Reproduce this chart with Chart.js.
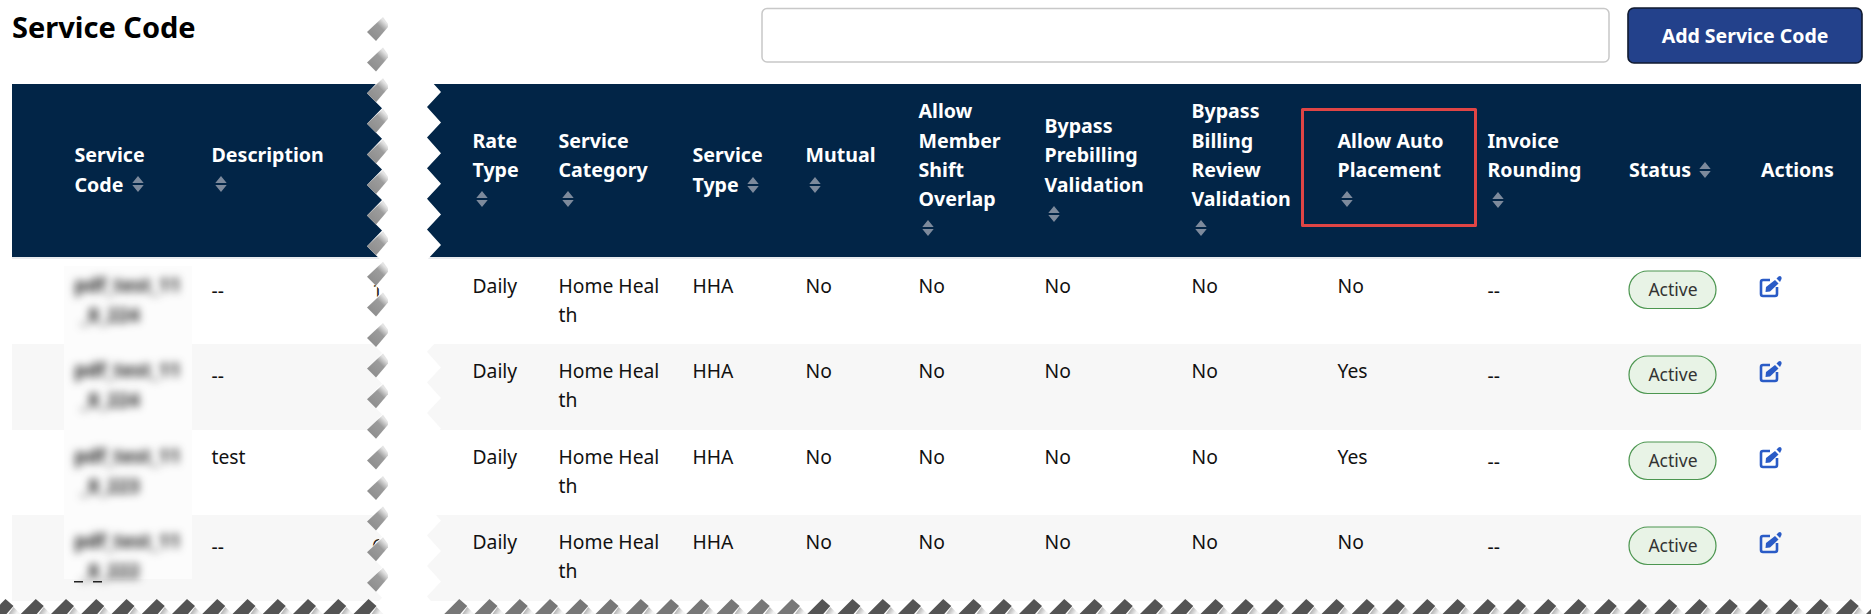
<!DOCTYPE html>
<html>
<head>
<meta charset="utf-8">
<title>Service Code</title>
<script src="https://cdn.jsdelivr.net/npm/chart.js@4"></script>
<style>
  html, body { margin: 0; padding: 0; background: #fff; overflow: hidden; }
  canvas { display: block; }
</style>
</head>
<body>
<canvas id="tableChart" width="1871" height="614"></canvas>
<script>
// table content, one list per column
const pageTitle = 'Service Code';
const buttonLabel = 'Add Service Code';
const columnHeaders = [
    ['Service', 'Code'], ['Description'], ['Rate', 'Type'], ['Service', 'Category'],
    ['Service', 'Type'], ['Mutual'], ['Allow', 'Member', 'Shift', 'Overlap'],
    ['Bypass', 'Prebilling', 'Validation'], ['Bypass', 'Billing', 'Review', 'Validation'],
    ['Allow Auto', 'Placement'], ['Invoice', 'Rounding'], ['Status'], ['Actions']
];
const serviceCodes = [['pdf_test_11', '_8_224'], ['pdf_test_11', '_8_224'], ['pdf_test_11', '_8_223'], ['pdf_test_11', '_8_222']];
const descriptions = [['--'], ['--'], ['test'], ['--']];
const rateTypes = [['Daily'], ['Daily'], ['Daily'], ['Daily']];
const serviceCategories = [['Home Heal', 'th'], ['Home Heal', 'th'], ['Home Heal', 'th'], ['Home Heal', 'th']];
const serviceTypes = [['HHA'], ['HHA'], ['HHA'], ['HHA']];
const mutuals = [['No'], ['No'], ['No'], ['No']];
const allowOverlap = [['No'], ['No'], ['No'], ['No']];
const bypassPrebilling = [['No'], ['No'], ['No'], ['No']];
const bypassBilling = [['No'], ['No'], ['No'], ['No']];
const allowAutoPlacement = [['No'], ['Yes'], ['Yes'], ['No']];
const invoiceRounding = [['--'], ['--'], ['--'], ['--']];
const statuses = [['Active'], ['Active'], ['Active'], ['Active']];
const columnValues = [serviceCodes, descriptions, rateTypes, serviceCategories, serviceTypes, mutuals,
    allowOverlap, bypassPrebilling, bypassBilling, allowAutoPlacement, invoiceRounding, statuses, [[], [], [], []]];

// layout
const W = 1871, H = 614;
const colX = [74.5, 211.5, 472.5, 558.5, 692.5, 805.5, 918.5, 1044.5, 1191.5, 1337.5, 1487.5, 1629, 1761];
const rowTop = [259, 344, 430, 515];
const rowBottom = 601;
const headerCenter = 170.5;
// lines each header takes, the sort arrows included
const headerSlots = [2, 2, 3, 3, 2, 2, 5, 4, 5, 3, 3, 1, 1];
const sortIcons = [[138, 184], [221, 184], [482, 199], [568, 199], [753, 185], [815, 185], [928, 228],
    [1054, 214], [1201, 228], [1347, 199], [1498, 200], [1705, 170], null];
const FONT = '"Noto Sans"';
const TOOTH = 30.6;

function cellPoints(c) {
    return rowTop.map(t => ({ x: colX[c], y: t }));
}

const tablePlugin = {
    id: 'tablePlugin',
    beforeDatasetsDraw(chart) {
        const ctx = chart.ctx;
        const X = v => chart.scales.x.getPixelForValue(v);
        const Y = v => chart.scales.y.getPixelForValue(v);
        const rect = (x0, y0, x1, y1, color) => {
            ctx.fillStyle = color;
            ctx.fillRect(X(x0), Y(y0), X(x1) - X(x0), Y(y1) - Y(y0));
        };
        rect(0, 0, W, H, '#ffffff');
        rect(12, 84, 1861, 257, '#022547');
        rect(12, 257, 1861, 259, '#e9ebee');
        rect(12, rowTop[1], 1861, rowTop[2], '#f7f7f7');
        rect(12, rowTop[3], 1861, rowBottom, '#f7f7f7');
        rect(64, 266, 192, 579, '#fcfcfc');
    },
    afterDatasetsDraw(chart) {
        const ctx = chart.ctx;
        const X = v => chart.scales.x.getPixelForValue(v);
        const Y = v => chart.scales.y.getPixelForValue(v);
        ctx.save();
        ctx.textBaseline = 'alphabetic';

        // title, search box, button
        ctx.textAlign = 'left';
        ctx.fillStyle = '#000';
        ctx.font = 'bold 29px ' + FONT;
        ctx.fillText(pageTitle, X(12), Y(38));
        ctx.strokeStyle = '#c8c8c8';
        ctx.lineWidth = 1.5;
        ctx.beginPath();
        ctx.roundRect(X(762), Y(8.5), 847, 53.5, 5);
        ctx.stroke();
        ctx.fillStyle = '#23418b';
        ctx.strokeStyle = '#101a30';
        ctx.lineWidth = 1.6;
        ctx.beginPath();
        ctx.roundRect(X(1628), Y(8), 234, 55, 6);
        ctx.fill();
        ctx.stroke();
        ctx.fillStyle = '#fff';
        ctx.font = 'bold 19.5px ' + FONT;
        ctx.textAlign = 'center';
        ctx.fillText(buttonLabel, X(1745), Y(43));
        ctx.textAlign = 'left';

        // header cells
        columnHeaders.forEach((lines, c) => {
            const icon = sortIcons[c];
            const first = headerCenter - (headerSlots[c] * 29.3) / 2 + 21;
            ctx.fillStyle = '#fff';
            ctx.font = 'bold 19.6px ' + FONT;
            lines.forEach((txt, i) => ctx.fillText(txt, X(colX[c]), Y(first + i * 29.3)));
            if (icon) {
                const x = X(icon[0]), y = Y(icon[1]);
                ctx.fillStyle = '#7d8a9c';
                ctx.beginPath();
                ctx.moveTo(x, y - 8); ctx.lineTo(x + 5.7, y - 1); ctx.lineTo(x - 5.7, y - 1); ctx.closePath();
                ctx.moveTo(x, y + 8); ctx.lineTo(x + 5.7, y + 1); ctx.lineTo(x - 5.7, y + 1); ctx.closePath();
                ctx.fill();
            }
        });

        // body cells, placed from the dataset points
        chart.data.datasets.forEach((ds, c) => {
            chart.getDatasetMeta(c).data.forEach((pt, r) => {
                const lines = columnValues[c][r];
                if (c === 0) {
                    ctx.save();
                    ctx.filter = 'blur(4.5px)';
                    ctx.fillStyle = '#222';
                    ctx.font = 'bold 19px ' + FONT;
                    ctx.fillText(lines[0], pt.x, pt.y + 33);
                    ctx.fillText(lines[1], pt.x + 6, pt.y + 63);
                    ctx.restore();
                    return;
                }
                if (c === 11) {
                    ctx.fillStyle = '#e8f3e6';
                    ctx.strokeStyle = '#4c9650';
                    ctx.lineWidth = 1.2;
                    ctx.beginPath();
                    ctx.roundRect(pt.x, pt.y + 12, 87, 37.5, 18.7);
                    ctx.fill();
                    ctx.stroke();
                    ctx.fillStyle = '#333';
                    ctx.font = '17.5px ' + FONT;
                    ctx.textAlign = 'center';
                    ctx.fillText(lines[0], pt.x + 44, pt.y + 37);
                    ctx.textAlign = 'left';
                    return;
                }
                if (c === 12) {
                    drawEditIcon(ctx, pt.x - 1, pt.y);
                    return;
                }
                ctx.fillStyle = '#111';
                ctx.font = '19.3px ' + FONT;
                const dy = lines[0] === '--' ? 39 : 34;
                lines.forEach((txt, i) => ctx.fillText(txt, pt.x, pt.y + dy + i * 29));
            });
        });

        // cut-off bits of text near the tear
        ctx.fillStyle = '#222';
        ctx.font = '19px ' + FONT;
        ctx.fillText('1', X(372), Y(rowTop[0] + 38));
        ctx.fillText('6', X(372), Y(rowTop[3] + 38));
        ctx.fillStyle = '#222';
        ctx.fillRect(X(74), Y(581), 9, 1.5);
        ctx.fillRect(X(93), Y(581), 9, 1.5);

        // red marker round the Allow Auto Placement header
        ctx.strokeStyle = '#e04545';
        ctx.lineWidth = 3;
        ctx.strokeRect(X(1302.5), Y(109.5), 173, 116);

        drawVerticalTear(ctx, X, Y);
        drawBottomTear(ctx, X, Y);
        ctx.restore();
    }
};

function drawEditIcon(ctx, x, top) {
    ctx.strokeStyle = '#2a5bc6';
    ctx.fillStyle = '#2a5bc6';
    ctx.lineWidth = 2.6;
    ctx.lineJoin = 'round';
    ctx.beginPath();
    ctx.moveTo(x + 10, top + 21);
    ctx.lineTo(x + 3, top + 21);
    ctx.quadraticCurveTo(x + 1, top + 21, x + 1, top + 23);
    ctx.lineTo(x + 1, top + 35);
    ctx.quadraticCurveTo(x + 1, top + 37, x + 3, top + 37);
    ctx.lineTo(x + 15, top + 37);
    ctx.quadraticCurveTo(x + 17, top + 37, x + 17, top + 35);
    ctx.lineTo(x + 17, top + 28);
    ctx.stroke();
    ctx.beginPath();
    ctx.moveTo(x + 6, top + 28);
    ctx.lineTo(x + 15, top + 21);
    ctx.lineTo(x + 18.5, top + 24.5);
    ctx.lineTo(x + 10, top + 32.5);
    ctx.lineTo(x + 5.5, top + 33);
    ctx.closePath();
    ctx.fill();
    ctx.beginPath();
    ctx.moveTo(x + 16.5, top + 19.5);
    ctx.lineTo(x + 18.5, top + 17.5);
    ctx.quadraticCurveTo(x + 20, top + 16.5, x + 21, top + 17.5);
    ctx.quadraticCurveTo(x + 22, top + 18.5, x + 21.5, top + 20);
    ctx.lineTo(x + 20, top + 23);
    ctx.closePath();
    ctx.fill();
}

function drawVerticalTear(ctx, X, Y) {
    // white gap between the two table halves
    ctx.fillStyle = '#fff';
    ctx.beginPath();
    ctx.moveTo(X(367), Y(0));
    for (let k = 0; k < 20; k++) {
        const t = 32 + TOOTH * k;
        ctx.lineTo(X(367), Y(t));
        ctx.lineTo(X(382), Y(t + 15));
    }
    ctx.lineTo(X(382), Y(H));
    ctx.lineTo(X(441), Y(H));
    for (let k = 19; k >= 0; k--) {
        const t = 92 + TOOTH * k - TOOTH;
        ctx.lineTo(X(427), Y(t + 15));
        ctx.lineTo(X(441), Y(t));
    }
    ctx.lineTo(X(441), Y(0));
    ctx.closePath();
    ctx.fill();
    // grey shadow on each tooth
    for (let k = 0; k < 19; k++) {
        const t = 32 + TOOTH * k;
        const g = ctx.createLinearGradient(X(372), Y(t + 5), X(386), Y(t - 9));
        g.addColorStop(0, '#8f8f8f');
        g.addColorStop(0.65, '#9c9c9c');
        g.addColorStop(1, '#e4e4e4');
        ctx.fillStyle = g;
        ctx.beginPath();
        ctx.moveTo(X(367), Y(t));
        ctx.lineTo(X(383), Y(t - 15));
        ctx.lineTo(X(388), Y(t - 8));
        ctx.lineTo(X(388), Y(t - 5));
        ctx.lineTo(X(376), Y(t + 9));
        ctx.closePath();
        ctx.fill();
    }
}

function drawBottomTear(ctx, X, Y) {
    ctx.fillStyle = '#fff';
    ctx.fillRect(X(0), Y(601), W, H - 601);
    for (let p = 5.5; p < W + 30; p += 30.25) {
        if (p > 385 && p < 432) continue;
        const light = p > 432 && p < 820;
        ctx.fillStyle = light ? '#777777' : '#545454';
        ctx.beginPath();
        ctx.moveTo(X(p), Y(599));
        ctx.lineTo(X(p + 8), Y(606));
        ctx.lineTo(X(p + 1), Y(614));
        ctx.lineTo(X(p - 15), Y(614));
        ctx.closePath();
        ctx.fill();
        const g = ctx.createLinearGradient(X(p + 2), Y(606), X(p + 12), Y(612));
        g.addColorStop(0, '#808080');
        g.addColorStop(1, '#f4f4f4');
        ctx.fillStyle = g;
        ctx.beginPath();
        ctx.moveTo(X(p + 1), Y(600));
        ctx.lineTo(X(p + 15), Y(614));
        ctx.lineTo(X(p + 3), Y(614));
        ctx.lineTo(X(p + 8), Y(607));
        ctx.closePath();
        ctx.fill();
    }
}

const canvas = document.getElementById('tableChart');
canvas.getContext('2d', { alpha: false });
new Chart(canvas, {
    type: 'scatter',
    data: {
        datasets: columnHeaders.map((h, c) => ({
            label: h.join(' '),
            data: cellPoints(c),
            pointRadius: 0
        }))
    },
    options: {
        responsive: false,
        animation: false,
        events: [],
        layout: { padding: 0 },
        plugins: { legend: { display: false }, tooltip: { enabled: false } },
        scales: {
            x: { type: 'linear', min: 0, max: W, display: false },
            y: { type: 'linear', min: 0, max: H, reverse: true, display: false }
        }
    },
    plugins: [tablePlugin]
});
</script>
</body>
</html>
